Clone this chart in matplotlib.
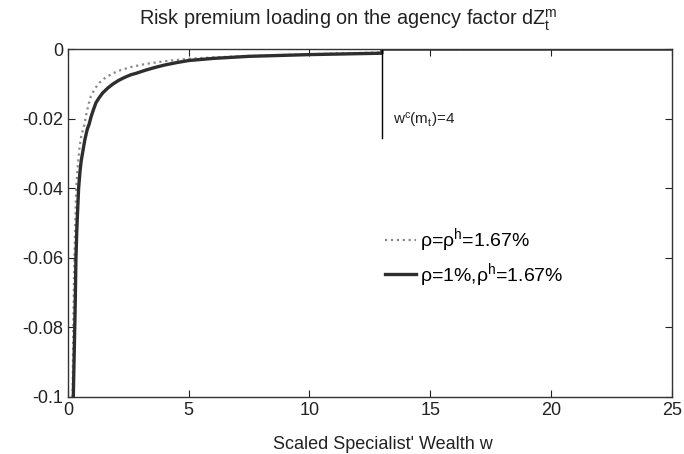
import matplotlib
matplotlib.use("Agg")
import matplotlib.pyplot as plt

plt.rcParams['font.family'] = ['Liberation Sans', 'DejaVu Sans']
plt.rcParams['axes.unicode_minus'] = False
plt.rcParams['mathtext.fontset'] = 'custom'
plt.rcParams['mathtext.rm'] = 'Liberation Sans'
plt.rcParams['mathtext.it'] = 'Liberation Sans'

# Data
x_solid = [0.22, 0.25, 0.28, 0.3, 0.33, 0.37, 0.44, 0.5, 0.55, 0.6, 0.7, 0.8, 0.88, 0.95,
           1.05, 1.16, 1.3, 1.44, 1.65, 1.85, 2.1, 2.33, 2.6, 2.81, 3.2, 3.6, 4.0, 4.5,
           5.0, 6.0, 7.5, 9.0, 10.0, 11.5, 13.0, 13.0, 25.0]
y_solid = [-0.1, -0.09, -0.08, -0.073, -0.06, -0.051, -0.04, -0.035, -0.032, -0.030,
           -0.026, -0.023, -0.0215, -0.0196, -0.0175, -0.0154, -0.0139, -0.0126, -0.0112,
           -0.0101, -0.0090, -0.0082, -0.0074, -0.0070, -0.0061, -0.0053, -0.0046,
           -0.0039, -0.0033, -0.0027, -0.0021, -0.0018, -0.0016, -0.0014, -0.0012, 0.0, 0.0]

x_dot = [0.19, 0.22, 0.25, 0.29, 0.34, 0.4, 0.48, 0.55, 0.67, 0.77, 0.86, 0.95, 1.1, 1.3,
         1.55, 1.85, 2.2, 2.65, 3.2, 4.0, 5.0, 6.0, 7.5, 9.0, 10.0, 11.5, 13.0, 13.0, 25.0]
y_dot = [-0.1, -0.08, -0.065, -0.053, -0.04, -0.034, -0.028, -0.025, -0.022, -0.0183,
         -0.0157, -0.0135, -0.0115, -0.0097, -0.0082, -0.0070, -0.0060, -0.0051, -0.0043,
         -0.0035, -0.0028, -0.0024, -0.0020, -0.0017, -0.0015, -0.0012, -0.0010, 0.0, 0.0]

x_ticks = [0, 5, 10, 15, 20, 25]
y_ticks = [0, -0.02, -0.04, -0.06, -0.08, -0.1]
y_ticklabels = ['0', '-0.02', '-0.04', '-0.06', '-0.08', '-0.1']

w_c = 13.0
w_c_line_bottom = -0.0257

label_dot = r'ρ=ρ$^\mathregular{h}$=1.67%'
label_solid = r'ρ=1%,ρ$^\mathregular{h}$=1.67%'

fig = plt.figure(figsize=(6.84, 4.54), dpi=100)
ax = fig.add_axes([0.0994, 0.1256, 0.8826, 0.7664])

ax.plot(x_dot, y_dot, linestyle=':', color='#8a8a8a', lw=1.6, label=label_dot)
ax.plot(x_solid, y_solid, linestyle='-', color='#2e2e2e', lw=2.4, label=label_solid)
ax.plot([w_c, w_c], [0, w_c_line_bottom], color='black', lw=1.0)

ax.text(13.45, -0.0205, r'w$^\mathregular{c}$(m$_\mathregular{t}$)=4', fontsize=11,
        va='center', ha='left', color='#222222')

ax.set_xlim(0, 25)
ax.set_ylim(-0.1, 0)
ax.set_xticks(x_ticks)
ax.set_yticks(y_ticks)
ax.set_yticklabels(y_ticklabels)
ax.tick_params(direction='in', top=True, right=True, labelsize=13, length=5,
               colors='#222222')
for s in ax.spines.values():
    s.set_color('#333333')
    s.set_linewidth(1.0)

fig.text(0.56, 0.012, "Scaled Specialist' Wealth w", fontsize=13, color='#222222',
         ha='center', va='baseline')
fig.text(0.509, 0.945,
         r'Risk premium loading on the agency factor dZ$_\mathregular{t}^\mathregular{m}$',
         fontsize=14.3, color='#222222', ha='center', va='baseline')

leg = ax.legend(loc='upper left', bbox_to_anchor=(0.525, 0.49), frameon=False,
                fontsize=14, handlelength=1.6, handletextpad=0.2, labelspacing=0.35,
                borderpad=0, borderaxespad=0)

fig.savefig('out.png', dpi=100)
